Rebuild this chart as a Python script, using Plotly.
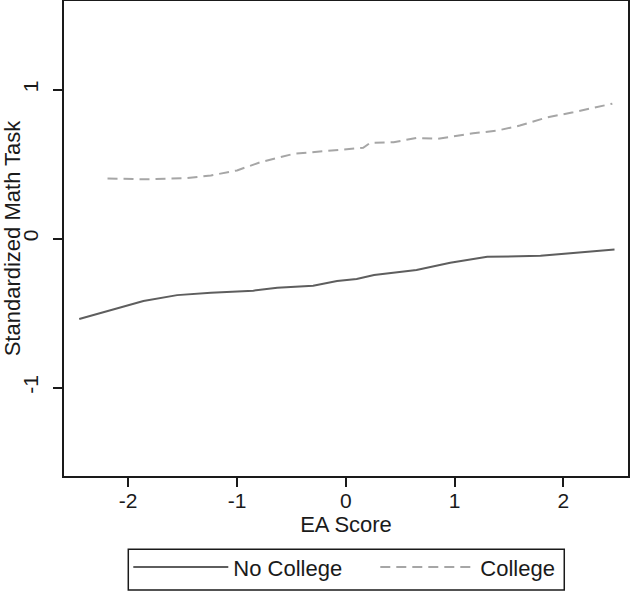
import plotly.graph_objects as go

# No College (solid)
nc_x = [-2.45, -2.16, -1.86, -1.55, -1.24, -0.85, -0.63, -0.30, -0.08, 0.10, 0.26, 0.65, 0.96, 1.30, 1.79, 2.47]
nc_y = [-0.54, -0.48, -0.42, -0.38, -0.364, -0.35, -0.33, -0.317, -0.285, -0.272, -0.245, -0.212, -0.163, -0.123, -0.116, -0.074]

# College (dashed)
col_x = [-2.19, -1.83, -1.46, -1.24, -1.00, -0.785, -0.48, -0.11, 0.16, 0.225, 0.44, 0.65, 0.84, 1.17, 1.39, 1.60, 1.85, 2.09, 2.45]
col_y = [0.403, 0.397, 0.405, 0.423, 0.457, 0.512, 0.568, 0.59, 0.609, 0.642, 0.646, 0.675, 0.669, 0.706, 0.724, 0.758, 0.813, 0.847, 0.905]

x_ticks = [-2, -1, 0, 1, 2]
x_tick_text = ["-2", "-1", "0", "1", "2"]
y_ticks = [-1, 0, 1]
y_tick_text = ["-1", "0", "1"]

FONT = "Liberation Sans, Arial, sans-serif"
INK = "#1a1a1a"

fig = go.Figure()
fig.add_trace(go.Scatter(x=nc_x, y=nc_y, mode="lines", name="No College",
                         line=dict(color="#5e5e5e", width=2)))
fig.add_trace(go.Scatter(x=col_x, y=col_y, mode="lines", name="College",
                         line=dict(color="#a6a6a6", width=2, dash="10px,6px")))

fig.update_layout(
    width=630, height=591,
    margin=dict(l=64, r=2, t=1, b=115, autoexpand=False),
    plot_bgcolor="white", paper_bgcolor="white",
    font=dict(family=FONT, size=21, color=INK),
    showlegend=True,
    legend=dict(orientation="h", x=0.114, xanchor="left", y=-0.148, yanchor="top",
                bgcolor="rgba(0,0,0,0)", borderwidth=0, font=dict(size=22),
                entrywidth=137, entrywidthmode="pixels", itemwidth=95),
    # frame around the legend
    shapes=[dict(type="rect", xref="paper", yref="paper",
                 x0=0.114, x1=0.887, y0=-0.240, y1=-0.154,
                 line=dict(color=INK, width=1.5), fillcolor="rgba(0,0,0,0)")],
)
fig.update_xaxes(range=[-2.59, 2.594], tickvals=x_ticks, ticktext=x_tick_text,
                 ticks="outside", ticklen=9, automargin=False, ticklabelstandoff=-4,
                 tickwidth=1.5, tickcolor=INK, showline=True, linecolor=INK,
                 linewidth=1.5, mirror=True, showgrid=False, zeroline=False,
                 title=dict(text="EA Score", standoff=2, font=dict(size=22)))
fig.update_yaxes(range=[-1.594, 1.594], tickvals=y_ticks, ticktext=y_tick_text,
                 ticks="outside", ticklen=9, automargin=False, ticklabelstandoff=7,
                 tickwidth=1.5, tickcolor=INK, showline=True, linecolor=INK,
                 linewidth=1.5, mirror=True, showgrid=False, zeroline=False, tickangle=-90,
                 title=dict(text="Standardized Math Task", standoff=1, font=dict(size=22)))

fig.write_html("out.html", config={"displayModeBar": False},
               post_script="document.body.style.margin='0';")
